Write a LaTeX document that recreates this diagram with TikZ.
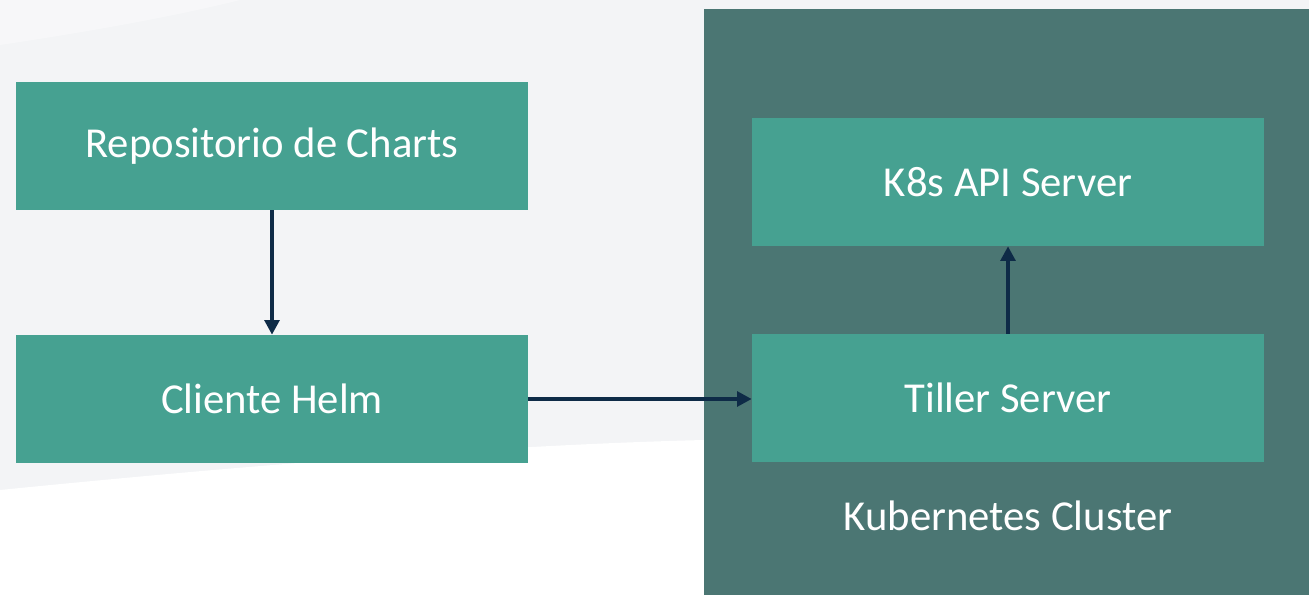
\documentclass[tikz,border=0pt]{standalone}
\usepackage{fontspec}
\setmainfont{Carlito}
\usetikzlibrary{arrows.meta}
\definecolor{bgc}{HTML}{F3F4F6}
\definecolor{clus}{HTML}{4B7673}
\definecolor{boxc}{HTML}{46A191}
\definecolor{arr}{HTML}{0E2B47}
\begin{document}
\begin{tikzpicture}[x=0.75pt,y=-0.75pt,
  box/.style={fill=boxc, draw=none, minimum width=384pt, minimum height=96pt, inner sep=0pt, text=white, font=\fontsize{32}{38}\selectfont},
  conn/.style={draw=arr, line width=3.5pt, -{Triangle[length=11pt,width=11pt]}}]
\useasboundingbox (0,0) rectangle (1309,595);
\fill[bgc] (0,0) rectangle (1309,595);
\fill[white] (0,595) -- (0,490) .. controls (250,465) and (500,445) .. (704,440) -- (704,595) -- cycle;
\fill[white, opacity=0.35] (0,0) -- (240,0) .. controls (180,15) and (100,30) .. (0,45) -- cycle;
\fill[clus] (704,9) rectangle (1309,595);
\node[box] (repo) at (272,146) {Repositorio de Charts};
\node[box] (helm) at (272,399) {Cliente Helm};
\node[box] (api) at (1008,182) {K8s API Server};
\node[box] (tiller) at (1008,398) {Tiller Server};
\node[text=white, font=\fontsize{32}{38}\selectfont] (clabel) at (1008,516) {Kubernetes Cluster};
\draw[conn] (repo.south) -- (helm.north);
\draw[conn] (helm.east) -- (tiller.west |- helm.east);
\draw[conn] (tiller.north) -- (api.south);
\end{tikzpicture}
\end{document}
